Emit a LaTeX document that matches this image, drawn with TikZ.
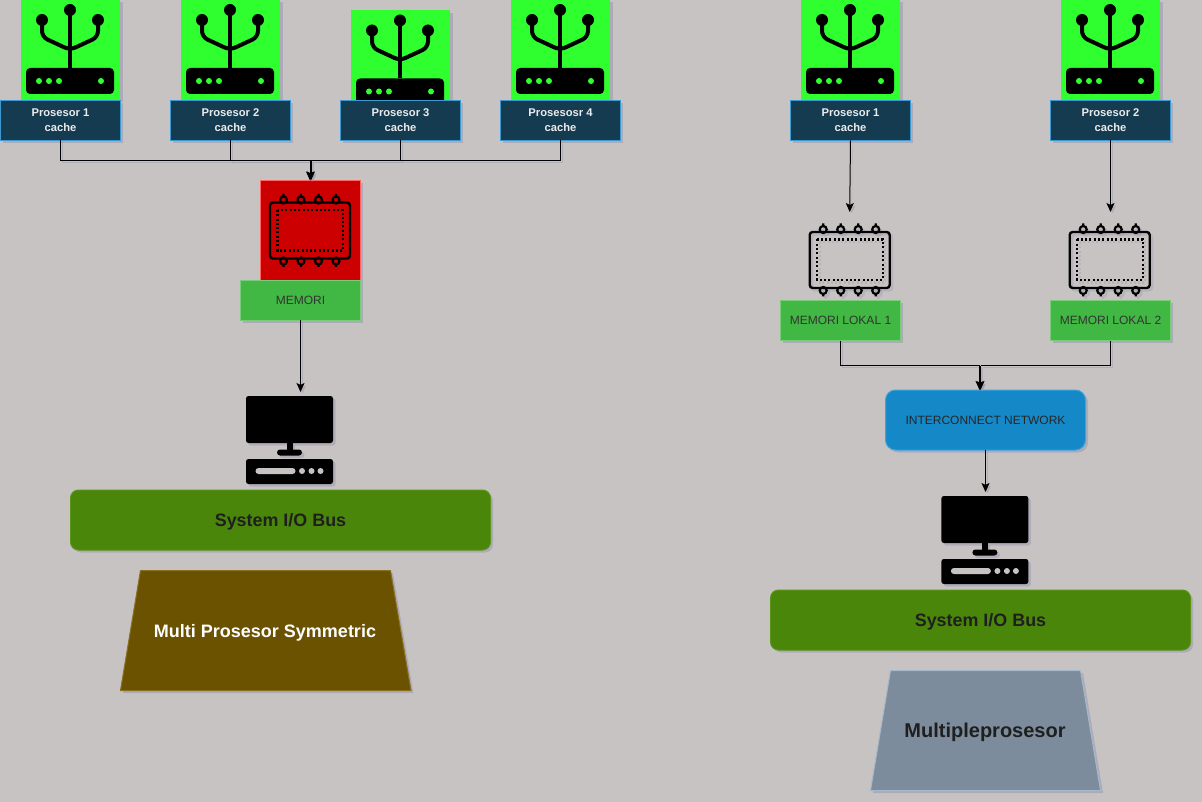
\documentclass[tikz,border=0pt]{standalone}
\usepackage{fontspec}
\setmainfont{Liberation Sans}
\usetikzlibrary{positioning, arrows.meta, shadows}
\definecolor{bgc}{HTML}{C8C3C3}
\definecolor{shadowc}{HTML}{9A98B0}
\definecolor{tilec}{HTML}{2FFF2F}
\definecolor{cpuline}{HTML}{3C9AD0}
\definecolor{cpufill}{HTML}{153B50}
\definecolor{chipred}{HTML}{CC0000}
\definecolor{memfill}{HTML}{41B843}
\definecolor{memline}{HTML}{7CCB7C}
\definecolor{busfill}{HTML}{4A860A}
\definecolor{busline}{HTML}{5A9418}
\definecolor{netfill}{HTML}{1588C8}
\definecolor{netline}{HTML}{3FA3DE}
\definecolor{brownfill}{HTML}{6B5200}
\definecolor{brownline}{HTML}{8A7020}
\definecolor{greyfill}{HTML}{7D8C9C}
\definecolor{greyline}{HTML}{A6B8CC}
\tikzset{
    softshadow/.style={drop shadow={shadow xshift=2.5pt, shadow yshift=-2.5pt, fill=shadowc, opacity=0.55}},
    tile/.style={rectangle, fill=tilec, minimum width=99.6pt, minimum height=100pt, outer sep=0pt, softshadow},
    cpu/.style={rectangle, draw=cpuline, fill=cpufill, line width=1pt, text=white!92!black, font=\fontsize{11.2}{15}\selectfont\bfseries, align=center, text depth=-2pt, minimum width=120pt, minimum height=40pt, outer sep=0pt, inner sep=0pt, softshadow},
    memtile/.style={rectangle, draw=red!60!white, fill=chipred, minimum width=100pt, minimum height=100pt, outer sep=0pt, softshadow},
    mem/.style={rectangle, draw=memline, fill=memfill, line width=1pt, text=black!80, font=\fontsize{12}{14}\selectfont, minimum width=120pt, minimum height=40pt, outer sep=0pt, inner sep=0pt, softshadow},
    bus/.style={rectangle, rounded corners=8pt, draw=busline, fill=busfill, line width=1pt, text=black!88, font=\fontsize{17.9}{20}\selectfont\bfseries, text depth=0pt, minimum width=420pt, minimum height=60pt, outer sep=0pt, softshadow},
    net/.style={rectangle, rounded corners=10pt, draw=netline, fill=netfill, line width=1pt, text=black!85, font=\fontsize{12}{14}\selectfont, minimum width=200pt, minimum height=60pt, outer sep=0pt, softshadow},
    trap/.style={line width=1pt, softshadow},
    traptext/.style={font=\bfseries, text depth=0pt},
    slot/.style={rectangle, minimum width=100pt, minimum height=96pt, outer sep=0pt},
    wire/.style={line width=1pt, preaction={draw=shadowc, opacity=0.45, transform canvas={xshift=2pt, yshift=-2pt}}},
    arrow/.style={wire, -{Stealth[length=9pt, width=8pt, inset=2pt]}},
    routerpic/.pic={
        \draw[line width=4pt] (0,-40) -- (0,18);
        \draw[line width=4pt, rounded corners=6pt] (-28,-30) -- (-28,-13) -- (0,0) -- (28,-13) -- (28,-30);
        \fill (-28,-30) circle[radius=6] (0,-40) circle[radius=6] (28,-30) circle[radius=6];
        \fill[rounded corners=4pt] (-44,18) rectangle (44,44);
        \foreach \dotx in {-31,-21,-11,31}
            \fill[tilec] (\dotx,31) circle[radius=3];
    },
    chippic/.pic={
        \draw[line width=2.4pt, rounded corners=3pt] (-40,-28) rectangle (40,28);
        \draw[line width=2.2pt, dash pattern=on 2pt off 2.3pt] (-32.5,-20.5) rectangle (33,20);
        \foreach \pinx in {-26.5,-9,8.5,26} {
            \draw[line width=2.2pt] (\pinx,-30.5) circle[radius=3.5] (\pinx,-33) -- (\pinx,-36.5);
            \draw[line width=2.2pt] (\pinx,30.5) circle[radius=3.5] (\pinx,33) -- (\pinx,36.5);
        }
    },
    pcpic/.pic={
        \fill[rounded corners=2.5pt] (-43.5,-44) rectangle (43.5,3);
        \fill (-3,2) rectangle (3,10);
        \fill[rounded corners=3pt] (-12.5,9.5) rectangle (12.5,15.5);
        \fill[rounded corners=2.5pt] (-43.5,19) rectangle (43.5,44);
        \fill[bgc, rounded corners=3pt] (-34,28) rectangle (6,34);
        \foreach \dotx in {12.5,22,31}
            \fill[bgc] (\dotx,31) circle[radius=3];
    }
}

\begin{document}
\begin{tikzpicture}[x=1pt, y=-1pt]

\fill[bgc] (0,0) rectangle (1202,802);
\useasboundingbox (0,0) rectangle (1202,802);

% Left: processor tiles
\node (tile1) [tile] at (70.5,50) {};
\node (tile2) [tile, right=60.4pt of tile1] {};
\node (tile3) [tile, right=70.4pt of tile2, yshift=-10.5pt] {};
\node (tile4) [tile, right=60.4pt of tile2, xshift=170pt] {};
\foreach \tilename in {tile1,tile2,tile3,tile4}
    \pic at ([xshift=-0.5pt]\tilename) {routerpic};

% Left: processors
\node (cpu1) [cpu] at (60.5,120.5) {Prosesor 1\\cache};
\node (cpu2) [cpu, right=50pt of cpu1] {Prosesor 2\\cache};
\node (cpu3) [cpu, right=50pt of cpu2] {Prosesor 3\\cache};
\node (cpu4) [cpu, right=40pt of cpu3] {Prosesosr 4\\cache};

% Left: memory
\node (chip0) [memtile] at (310.3,230.5) {};
\pic at ([xshift=-0.3pt]chip0) {chippic};
\node (mem0) [mem] at (300.5,300.5) {MEMORI};

% Left: computer and bus
\node (pc1) [slot] at (289.5,440) {};
\pic[color=shadowc, opacity=0.5] at ([shift={(2.5pt,-2.5pt)}]pc1) {pcpic};
\pic at (pc1) {pcpic};
\node (bus1) [bus] at (280.5,520) {System I/O Bus};
\path[trap, draw=brownline, fill=brownfill] (140.5,570.5) -- (390.5,570.5) -- (411,690.5) -- (120.5,690.5) -- cycle;
\node (kind1) [traptext, text=white] at (265,630.5) {\fontsize{18}{20}\selectfont Multi Prosesor Symmetric};

% Right: processor tiles
\node (tile5) [tile] at (850.5,50) {};
\node (tile6) [tile, right=160.4pt of tile5] {};
\foreach \tilename in {tile5,tile6}
    \pic at ([xshift=-0.5pt]\tilename) {routerpic};

% Right: processors
\node (cpu5) [cpu] at (850.5,120.5) {Prosesor 1\\cache};
\node (cpu6) [cpu, right=140pt of cpu5] {Prosesor 2\\cache};

% Right: local memory
\node (chip1) [slot] at (849.7,260) {};
\node (chip2) [slot, right=160pt of chip1] {};
\foreach \chipname in {chip1,chip2} {
    \pic[color=shadowc, opacity=0.35] at ([shift={(2.5pt,-2.5pt)}]\chipname) {chippic};
    \pic at (\chipname) {chippic};
}
\node (mem1) [mem] at (840.5,320.5) {MEMORI LOKAL 1};
\node (mem2) [mem, right=150pt of mem1] {MEMORI LOKAL 2};

% Right: network, computer and bus
\node (net1) [net] at (985.5,420) {INTERCONNECT NETWORK};
\node (pc2) [slot] at (984.9,540) {};
\pic[color=shadowc, opacity=0.5] at ([shift={(2.5pt,-2.5pt)}]pc2) {pcpic};
\pic at (pc2) {pcpic};
\node (bus2) [bus] at (980.5,620) {System I/O Bus};
\path[trap, draw=greyline, fill=greyfill] (890.5,670.5) -- (1080.5,670.5) -- (1100.5,790.5) -- (870.5,790.5) -- cycle;
\node (kind2) [traptext, text=black!88] at (985,730.5) {\fontsize{20}{22}\selectfont Multipleprosesor};

% Join points
\coordinate (join1) at (310,160.5);
\coordinate (join2) at (311,160.5);
\coordinate (join3) at (979.5,365.5);
\coordinate (join4) at (980.5,365.5);

% Arrows between layers
\draw[wire] (cpu1.south) |- (join1);
\draw[wire] (cpu2.south) |- (join1);
\draw[wire] (cpu3.south) |- (join2);
\draw[wire] (cpu4.south) |- (join2);
\draw[arrow] (join1) -- (join1 |- chip0.north);
\draw[arrow] (join2) -- (join2 |- chip0.north);
\draw[arrow] (mem0.south) -- (mem0.south |- pc1.north);

\draw[arrow] (cpu5.south) -- (chip1.north);
\draw[arrow] (cpu6.south) -- (cpu6.south |- chip2.north);
\draw[wire] (mem1.south) |- (join3);
\draw[wire] (mem2.south) |- (join4);
\draw[arrow] (join3) -- (join3 |- net1.north);
\draw[arrow] (join4) -- (join4 |- net1.north);
\draw[arrow] (net1.south) -- (net1.south |- pc2.north);

\end{tikzpicture}
\end{document}
